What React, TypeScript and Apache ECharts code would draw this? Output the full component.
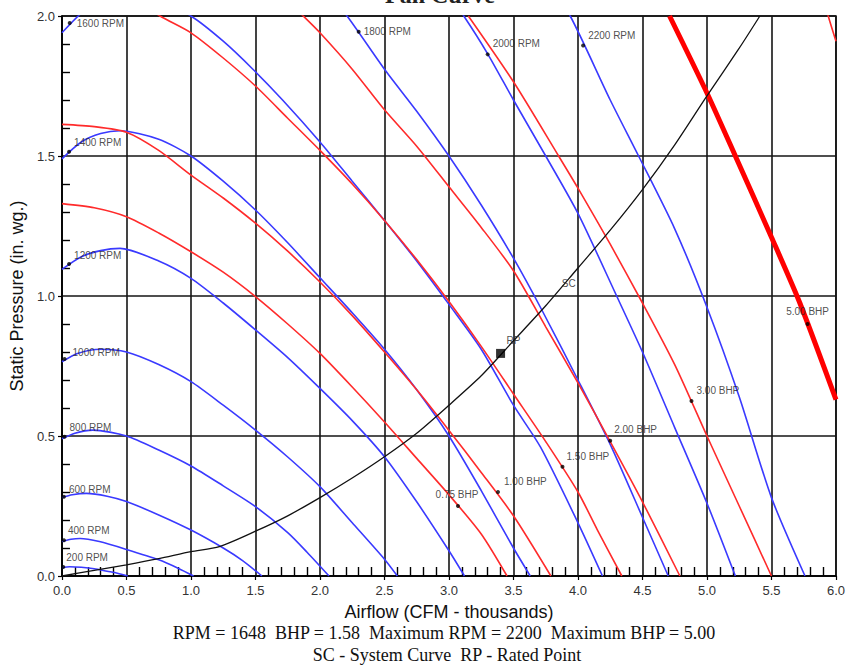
import React, { useEffect, useRef } from "react";
import * as echarts from "echarts";

// ---- Data ----
// Fan curves (blue): [airflow (thousand CFM), static pressure (in. wg.)]
const rpm200 = [[0, 0.03], [0.06, 0.033], [0.15, 0.031], [0.25, 0.026], [0.35, 0.017], [0.43, 0.01], [0.51, 0]];
const rpm400 = [[0, 0.123], [0.07, 0.131], [0.14, 0.134], [0.29, 0.123], [0.5, 0.095], [0.75, 0.058], [0.9, 0.028], [1.02, 0]];
const rpm600 = [[0, 0.28], [0.08, 0.29], [0.19, 0.295], [0.35, 0.285], [0.5, 0.266], [0.75, 0.218], [1.0, 0.164], [1.25, 0.1], [1.4, 0.055], [1.55, 0]];
const rpm800 = [[0, 0.49], [0.1, 0.51], [0.24, 0.521], [0.5, 0.5], [0.75, 0.45], [1.0, 0.393], [1.25, 0.322], [1.5, 0.248], [1.75, 0.155], [1.9, 0.085], [2.07, 0]];
const rpm1000 = [[0, 0.765], [0.12, 0.795], [0.3, 0.81], [0.5, 0.8], [0.75, 0.755], [1.0, 0.694], [1.25, 0.61], [1.5, 0.521], [1.75, 0.425], [2.0, 0.319], [2.25, 0.19], [2.5, 0.06], [2.6, 0]];
const rpm1200 = [[0, 1.095], [0.15, 1.14], [0.3, 1.162], [0.45, 1.17], [0.75, 1.125], [1.0, 1.063], [1.25, 0.975], [1.5, 0.879], [1.75, 0.78], [2.0, 0.67], [2.25, 0.555], [2.5, 0.426], [2.75, 0.265], [3.0, 0.09], [3.12, 0]];
const rpm1400 = [[0, 1.49], [0.15, 1.55], [0.3, 1.58], [0.45, 1.59], [0.75, 1.56], [1.0, 1.5], [1.25, 1.41], [1.5, 1.307], [1.75, 1.19], [2.0, 1.065], [2.25, 0.94], [2.5, 0.81], [2.75, 0.665], [3.0, 0.5], [3.25, 0.305], [3.5, 0.1], [3.63, 0]];
const rpm1600 = [[0, 1.94], [0.15, 2.01], [0.3, 2.055], [0.5, 2.075], [0.75, 2.055], [1.0, 2.0], [1.25, 1.91], [1.48, 1.81], [1.71, 1.7], [2.0, 1.55], [2.25, 1.41], [2.5, 1.27], [2.75, 1.125], [3.0, 0.97], [3.25, 0.81], [3.5, 0.61], [3.71, 0.46], [4.0, 0.19], [4.19, 0]];
const rpm1800 = [[1.93, 2.16], [2.21, 2.0], [2.5, 1.81], [2.75, 1.66], [3.0, 1.5], [3.25, 1.325], [3.5, 1.135], [3.72, 0.95], [4.0, 0.7], [4.25, 0.47], [4.5, 0.21], [4.7, 0]];
const rpm2000 = [[2.86, 2.17], [3.115, 2.0], [3.3, 1.865], [3.5, 1.7], [3.75, 1.5], [4.0, 1.295], [4.3, 1.0], [4.5, 0.8], [4.75, 0.53], [5.0, 0.26], [5.22, 0]];
const rpm2200 = [[3.53, 2.32], [3.94, 2.0], [4.25, 1.7], [4.47, 1.5], [4.75, 1.24], [5.0, 0.96], [5.25, 0.64], [5.5, 0.28], [5.76, 0]];

// Brake-horsepower curves (red)
const bhp075 = [[0, 1.33], [0.25, 1.315], [0.5, 1.283], [0.75, 1.225], [1.0, 1.158], [1.25, 1.085], [1.5, 0.998], [1.75, 0.9], [2.0, 0.795], [2.25, 0.675], [2.5, 0.55], [2.75, 0.42], [3.0, 0.29], [3.25, 0.15], [3.45, 0]];
const bhp100 = [[0, 1.613], [0.25, 1.605], [0.5, 1.585], [0.75, 1.52], [1.0, 1.432], [1.25, 1.35], [1.5, 1.26], [1.75, 1.16], [2.0, 1.05], [2.25, 0.93], [2.5, 0.8], [2.75, 0.665], [3.0, 0.52], [3.25, 0.37], [3.5, 0.215], [3.79, 0]];
const bhp150 = [[0.5, 2.08], [0.76, 2.0], [1.0, 1.94], [1.25, 1.85], [1.5, 1.75], [1.75, 1.635], [2.0, 1.52], [2.25, 1.4], [2.5, 1.27], [2.75, 1.13], [3.0, 0.98], [3.25, 0.82], [3.5, 0.65], [3.75, 0.48], [4.0, 0.3], [4.15, 0.165], [4.34, 0]];
const bhp200 = [[1.6, 2.12], [1.87, 2.0], [2.0, 1.94], [2.25, 1.81], [2.5, 1.665], [2.75, 1.535], [3.0, 1.39], [3.25, 1.245], [3.5, 1.09], [3.75, 0.89], [4.0, 0.69], [4.25, 0.48], [4.5, 0.265], [4.79, 0]];
const bhp300 = [[3.15, 2.0], [3.5, 1.765], [3.85, 1.5], [4.0, 1.385], [4.25, 1.185], [4.5, 0.975], [4.75, 0.755], [5.0, 0.5], [5.25, 0.25], [5.5, 0]];
const bhp500 = [[4.71, 2.0], [5.0, 1.725], [5.22, 1.5], [5.5, 1.21], [5.72, 0.975], [6.0, 0.63]];
const bhpTop = [[5.9, 2.07], [5.94, 2.0], [6.0, 1.91]];

// System curve and rated point
const systemCurve = [[0, 0], [0.25, 0.02], [0.5, 0.04], [0.75, 0.062], [1.0, 0.087], [1.22, 0.105], [1.5, 0.16], [1.75, 0.215], [2.0, 0.28], [2.25, 0.35], [2.5, 0.426], [2.75, 0.51], [3.0, 0.61], [3.25, 0.715], [3.5, 0.84], [3.75, 0.965], [4.0, 1.1], [4.25, 1.235], [4.5, 1.38], [4.75, 1.54], [5.0, 1.715], [5.25, 1.885], [5.41, 2.0]];
const ratedPoint = [3.4, 0.795];
const scLabelIndex = 15; // system-curve point the "SC" tag sits beside

// Curve labels and the points they mark
const rpmNames = ["200 RPM", "400 RPM", "600 RPM", "800 RPM", "1000 RPM", "1200 RPM", "1400 RPM", "1600 RPM", "1800 RPM", "2000 RPM", "2200 RPM"];
const rpmMarks = [[0.01, 0.032], [0.015, 0.128], [0.015, 0.283], [0.02, 0.497], [0.02, 0.775], [0.055, 1.114], [0.055, 1.515], [0.06, 1.975], [2.3, 1.944], [3.3, 1.863], [4.04, 1.895]];
const bhpNames = ["0.75 BHP", "1.00 BHP", "1.50 BHP", "2.00 BHP", "3.00 BHP", "5.00 BHP"];
const bhpMarks = [[3.07, 0.25], [3.38, 0.3], [3.88, 0.39], [4.25, 0.483], [4.88, 0.625], [5.78, 0.9]];

const xTickLabels = ["0.0", "0.5", "1.0", "1.5", "2.0", "2.5", "3.0", "3.5", "4.0", "4.5", "5.0", "5.5", "6.0"];
const yTickLabels = ["0.0", "0.5", "1.0", "1.5", "2.0"];

const titleText = "Fan Curve";
const xName = "Airflow (CFM - thousands)";
const yName = "Static Pressure (in. wg.)";
const infoLine1 = "RPM = 1648  BHP = 1.58  Maximum RPM = 2200  Maximum BHP = 5.00";
const infoLine2 = "SC - System Curve  RP - Rated Point";

// ---- layout / style (not data) ----
const rpmOffsets = [[3, -10], [4, -10], [5, -7], [5, -9], [8, -7], [5, -9], [5, -9], [7, 0], [5, 0], [5, -11], [5, -10]];
const bhpOffsets = [[-1, -12, "center"], [6, -11, "left"], [4, -10, "left"], [4, -11, "left"], [5, -11, "left"], [0, -13, "center"]];

const SANS = "'Liberation Sans', Arial, sans-serif";
const SERIF = "'Liberation Serif', 'Times New Roman', serif";
const BLUE = "#3a3aff";
const RED = "#ff2b2b";

function lineSeries(name: string, data: number[][], color: string, width: number, z = 3) {
  return {
    name,
    type: "line",
    data,
    showSymbol: false,
    symbol: "none",
    smooth: 0.25,
    clip: true,
    z,
    lineStyle: { color, width },
    silent: true,
  };
}

function labelStyle(text: string, dx: number, dy: number, align: string) {
  return {
    show: true,
    formatter: text,
    position: "inside",
    offset: [dx, dy],
    align,
    verticalAlign: "middle",
    fontSize: 10,
    fontFamily: SANS,
    color: "#222",
  };
}

export default function App() {
  const ref = useRef<HTMLDivElement>(null);
  useEffect(() => {
    if (!ref.current) return;
    const chart = echarts.init(ref.current, null, { renderer: "svg" });

    const axisCommon = { type: "value", min: 0, interval: 0.5 };
    const rpmSets = [rpm200, rpm400, rpm600, rpm800, rpm1000, rpm1200, rpm1400, rpm1600, rpm1800, rpm2000, rpm2200];
    const bhpSets = [bhp075, bhp100, bhp150, bhp200, bhp300];

    const series: any[] = [];
    rpmSets.forEach((d, i) => series.push(lineSeries(rpmNames[i], d, BLUE, 1.6)));
    bhpSets.forEach((d, i) => series.push(lineSeries(bhpNames[i], d, RED, 1.6)));
    series.push(lineSeries(bhpNames[5], bhp500, "#ff0000", 5));
    series.push(lineSeries("BHP max", bhpTop, RED, 1.6));
    series.push(lineSeries("SC", systemCurve, "#111", 1.3, 4));

    const marks: any[] = [];
    rpmMarks.forEach((p, i) => marks.push({ value: p, label: labelStyle(rpmNames[i], rpmOffsets[i][0], rpmOffsets[i][1], "left") }));
    bhpMarks.forEach((p, i) =>
      marks.push({ value: p, label: labelStyle(bhpNames[i], bhpOffsets[i][0] as number, bhpOffsets[i][1] as number, bhpOffsets[i][2] as string) })
    );
    series.push({
      name: "labels",
      type: "scatter",
      symbol: "circle",
      symbolSize: 4,
      itemStyle: { color: "#000" },
      z: 6,
      silent: true,
      data: marks,
    });
    series.push({
      name: "SC label",
      type: "scatter",
      symbolSize: 1,
      itemStyle: { color: "rgba(0,0,0,0)" },
      z: 6,
      silent: true,
      data: [{ value: systemCurve[scLabelIndex], label: labelStyle("SC", 23, -22, "center") }],
    });
    series.push({
      name: "RP",
      type: "scatter",
      symbol: "rect",
      symbolSize: 9,
      itemStyle: { color: "#000" },
      z: 6,
      silent: true,
      data: [{ value: ratedPoint, label: labelStyle("RP", 6, -13, "left") }],
    });

    const option: any = {
      animation: false,
      backgroundColor: "#fff",
      grid: { left: 60.5, right: 11.7, top: 16, bottom: 89, show: true, borderColor: "#000", borderWidth: 1.5, backgroundColor: "transparent" },
      xAxis: [
        {
          ...axisCommon,
          max: 6,
          position: "bottom",
          name: xName,
          nameLocation: "middle",
          nameGap: 27,
          nameTextStyle: { fontSize: 18, fontFamily: SANS, color: "#111" },
          axisLine: { show: true, onZero: false, lineStyle: { color: "#000", width: 1.5 } },
          axisTick: { show: true, inside: false, length: 4, lineStyle: { color: "#000", width: 1.2 } },
          axisLabel: { margin: 8, fontSize: 13, fontFamily: SANS, color: "#333", formatter: (v: number) => xTickLabels[Math.round(v / 0.5)] ?? "" },
          splitLine: { show: true, lineStyle: { color: "#151515", width: 1.6 } },
        },
        {
          ...axisCommon,
          max: 6,
          position: "bottom",
          axisLine: { show: false, onZero: false },
          axisTick: { show: false, inside: true },
          axisLabel: { show: false },
          splitLine: { show: false },
          minorTick: { show: true, splitNumber: 5, length: 9, lineStyle: { color: "#000", width: 1.4 } },
        },
      ],
      yAxis: [
        {
          ...axisCommon,
          max: 2,
          position: "left",
          name: yName,
          nameLocation: "middle",
          nameGap: 29,
          nameRotate: 90,
          nameTextStyle: { fontSize: 18, fontFamily: SANS, color: "#111" },
          axisLine: { show: true, onZero: false, lineStyle: { color: "#000", width: 1.5 } },
          axisTick: { show: true, inside: false, length: 4, lineStyle: { color: "#000", width: 1.2 } },
          axisLabel: { margin: 7, fontSize: 13, fontFamily: SANS, color: "#333", formatter: (v: number) => yTickLabels[Math.round(v / 0.5)] ?? "" },
          splitLine: { show: true, lineStyle: { color: "#151515", width: 1.6 } },
        },
        {
          ...axisCommon,
          max: 2,
          position: "left",
          axisLine: { show: false, onZero: false },
          axisTick: { show: false, inside: true },
          axisLabel: { show: false },
          splitLine: { show: false },
          minorTick: { show: true, splitNumber: 5, length: 8, lineStyle: { color: "#000", width: 1.4 } },
        },
      ],
      series,
      graphic: [
        { type: "text", x: 440, y: -5, style: { text: titleText, fontSize: 24, fontWeight: "bold", fontFamily: SERIF, fill: "#222", align: "center", verticalAlign: "middle" } },
        { type: "text", x: 444, y: 633, style: { text: infoLine1, fontSize: 18, fontFamily: SERIF, fill: "#111", align: "center", verticalAlign: "middle" } },
        { type: "text", x: 447, y: 655, style: { text: infoLine2, fontSize: 18, fontFamily: SERIF, fill: "#111", align: "center", verticalAlign: "middle" } },
      ],
    };
    chart.setOption(option);
    return () => chart.dispose();
  }, []);

  return <div ref={ref} style={{ position: "fixed", left: 0, top: 0, width: 848, height: 665, background: "#fff" }} />;
}
